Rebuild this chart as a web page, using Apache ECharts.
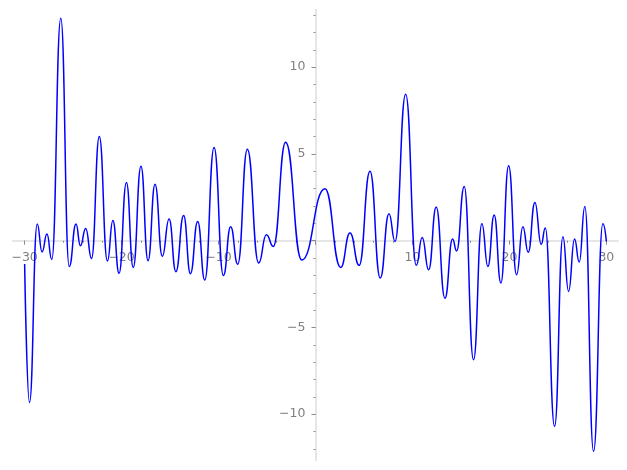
<!DOCTYPE html>
<html><head><meta charset="utf-8">
<script src="https://cdn.jsdelivr.net/npm/echarts@6/dist/echarts.min.js"></script>
<style>html,body{margin:0;padding:0;background:#fff}#c{width:627px;height:470px}</style>
</head><body><div id="c"></div>
<script>
// Curve samples (extrema and end points)
const xValues = [-30, -29.5, -28.7, -28.2, -27.7, -27.2, -26.27, -25.4, -24.7, -24.25, -23.7, -23.1, -22.3, -21.46, -20.9, -20.26, -19.5, -18.8, -18.0, -17.27, -16.55, -15.8, -15.1, -14.4, -13.6, -12.9, -12.15, -11.42, -10.46, -9.5, -8.75, -8.02, -7.03, -5.86, -5.07, -4.35, -3.08, -1.42, 0.98, 2.6, 3.56, 4.5, 5.62, 6.68, 7.58, 8.2, 9.3, 10.4, 11.0, 11.67, 12.45, 13.35, 14.14, 14.55, 15.34, 16.3, 17.16, 17.78, 18.43, 19.12, 19.92, 20.74, 21.39, 21.94, 22.63, 23.28, 23.7, 24.66, 25.52, 26.1, 26.72, 27.2, 27.78, 28.68, 29.64, 30.0];
const yValues = [-1.34, -9.32, 0.96, -0.65, 0.39, -1.08, 12.83, -1.48, 0.96, -0.29, 0.71, -1.02, 6.01, -1.17, 1.17, -1.88, 3.36, -1.54, 4.3, -1.15, 3.25, -0.9, 1.25, -1.79, 1.46, -1.9, 1.11, -2.27, 5.38, -2.0, 0.81, -1.36, 5.28, -1.29, 0.35, -0.33, 5.67, -1.11, 3.0, -1.54, 0.44, -1.42, 4.0, -2.15, 1.56, -0.04, 8.45, -1.42, 0.19, -1.67, 1.94, -3.32, 0.1, -0.59, 3.13, -6.86, 0.98, -1.48, 1.48, -2.44, 4.32, -1.96, 0.81, -0.67, 2.21, -0.21, 0.73, -10.7, 0.23, -2.92, 0.1, -1.23, 1.98, -12.14, 0.98, -0.04];

// Ticks and labels
const xMajorTicks = [-30, -20, -10, 0, 10, 20, 30];
const xLabelTicks = [-30, -20, -10, 10, 20, 30];
const xMinorTicks = [-30, -28, -26, -24, -22, -20, -18, -16, -14, -12, -10, -8, -6, -4, -2, 0, 2, 4, 6, 8, 10, 12, 14, 16, 18, 20, 22, 24, 26, 28, 30];
const yMajorTicks = [-10, -5, 0, 5, 10];
const yLabelTicks = [-10, -5, 5, 10];
const yMinorTicks = [-12, -11, -10, -9, -8, -7, -6, -5, -4, -3, -2, -1, 0, 1, 2, 3, 4, 5, 6, 7, 8, 9, 10, 11, 12, 13];

const X_MIN = -31.2, X_MAX = 31.2, Y_MIN = -12.64, Y_MAX = 13.3;
const GRID = { left: 13, right: 9, top: 10, bottom: 10 };
const W = 627, H = 470;
const fmt = v => String(v).replace('-', '\u2212');
const axisLineStyle = { color: '#e6e6e6', width: 2 };
const tickStyle = { color: '#8a8a8a', width: 1 };
const labelStyle = { color: '#808080', fontSize: 12.5, fontFamily: 'DejaVu Sans' };

const chart = echarts.init(document.getElementById('c'), null, { renderer: 'canvas' });
function build(xMargin, yMargin) {
  return {
    animation: false,
    backgroundColor: '#ffffff',
    grid: Object.assign({ containLabel: false, outerBoundsMode: 'none' }, GRID),
    xAxis: [
      { type: 'value', min: X_MIN, max: X_MAX, position: 'bottom',
        axisLine: { onZero: true, lineStyle: axisLineStyle },
        axisTick: { customValues: xMajorTicks, length: 4, lineStyle: tickStyle },
        axisLabel: Object.assign({ customValues: xLabelTicks, formatter: fmt, margin: xMargin }, labelStyle),
        splitLine: { show: false } },
      { type: 'value', min: X_MIN, max: X_MAX, position: 'bottom',
        axisLine: { onZero: true, lineStyle: axisLineStyle },
        axisTick: { customValues: xMinorTicks, length: 2, lineStyle: tickStyle },
        axisLabel: { show: false },
        splitLine: { show: false } }
    ],
    yAxis: [
      { type: 'value', min: Y_MIN, max: Y_MAX, position: 'left',
        axisLine: { onZero: true, lineStyle: axisLineStyle },
        axisTick: { customValues: yMajorTicks, length: 4, lineStyle: tickStyle },
        axisLabel: Object.assign({ customValues: yLabelTicks, formatter: fmt, margin: yMargin }, labelStyle),
        splitLine: { show: false } },
      { type: 'value', min: Y_MIN, max: Y_MAX, position: 'left',
        axisLine: { onZero: true, lineStyle: axisLineStyle },
        axisTick: { customValues: yMinorTicks, length: 2, lineStyle: tickStyle },
        axisLabel: { show: false },
        splitLine: { show: false } }
    ],
    series: [{
      type: 'line',
      xAxisIndex: 0, yAxisIndex: 0,
      data: xValues.map((x, i) => [x, yValues[i]]),
      showSymbol: false,
      smooth: 0.5,
      smoothMonotone: 'x',
      lineStyle: { color: '#0000ff', width: 1.5 },
      z: 3
    }]
  };
}
chart.setOption(build(11, 10));
// Labels of onZero axes are laid out from the grid edge in this version; shift them next to the zero lines.
const zeroY = chart.convertToPixel({ yAxisIndex: 0 }, 0);
const zeroX = chart.convertToPixel({ xAxisIndex: 0 }, 0);
const bottomEdge = H - GRID.bottom, leftEdge = GRID.left;
chart.setOption(build(11 - (bottomEdge - zeroY), 10 - (zeroX - leftEdge)), true);
</script>
</body></html>
